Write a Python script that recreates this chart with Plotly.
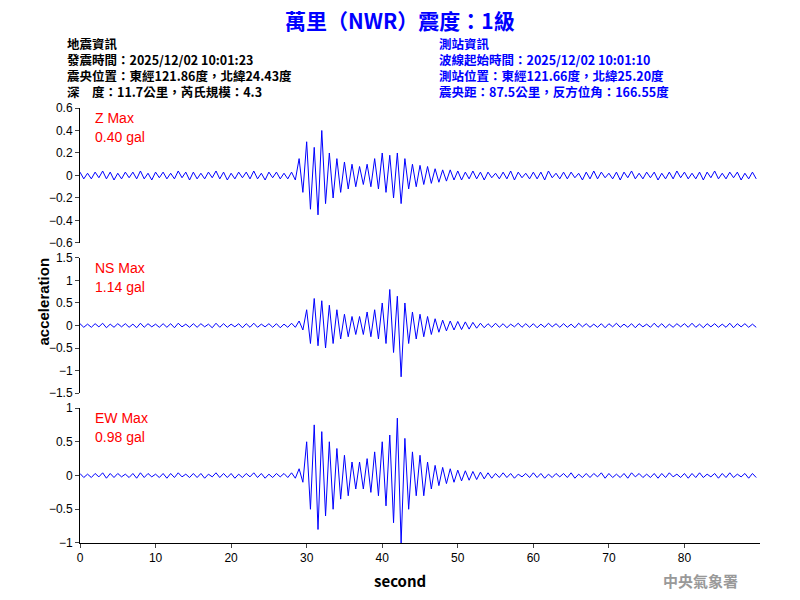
import plotly.graph_objects as go

# per-second peak (max) and trough (min) amplitudes, gal, 0..89 s
seconds = list(range(90))

z_max = [0.03, 0.02, 0.03, 0.04, 0.03, 0.02, 0.03, 0.03, 0.04, 0.02,
         0.03, 0.03, 0.02, 0.04, 0.03, 0.03, 0.02, 0.03, 0.04, 0.03,
         0.02, 0.03, 0.03, 0.04, 0.02, 0.03, 0.03, 0.02, 0.03, 0.15,
         0.30, 0.25, 0.40, 0.20, 0.15, 0.12, 0.10, 0.08, 0.10, 0.15,
         0.20, 0.18, 0.20, 0.15, 0.10, 0.09, 0.08, 0.06, 0.05, 0.05,
         0.04, 0.03, 0.04, 0.03, 0.03, 0.02, 0.03, 0.04, 0.03, 0.02,
         0.03, 0.03, 0.04, 0.02, 0.03, 0.03, 0.02, 0.03, 0.04, 0.03,
         0.02, 0.03, 0.03, 0.04, 0.02, 0.03, 0.03, 0.02, 0.03, 0.04,
         0.03, 0.02, 0.03, 0.03, 0.04, 0.02, 0.03, 0.03, 0.02, 0.03]
z_min = [-0.03, -0.03, -0.02, -0.03, -0.04, -0.03, -0.02, -0.03, -0.03, -0.04,
         -0.02, -0.03, -0.03, -0.02, -0.04, -0.03, -0.03, -0.02, -0.03, -0.04,
         -0.03, -0.02, -0.03, -0.03, -0.04, -0.02, -0.03, -0.03, -0.04, -0.15,
         -0.30, -0.35, -0.25, -0.20, -0.15, -0.12, -0.10, -0.08, -0.10, -0.12,
         -0.15, -0.20, -0.25, -0.12, -0.10, -0.08, -0.07, -0.06, -0.05, -0.04,
         -0.04, -0.03, -0.03, -0.04, -0.02, -0.03, -0.03, -0.04, -0.02, -0.03,
         -0.03, -0.04, -0.02, -0.03, -0.03, -0.02, -0.04, -0.03, -0.03, -0.02,
         -0.03, -0.04, -0.02, -0.03, -0.03, -0.02, -0.04, -0.03, -0.03, -0.02,
         -0.03, -0.03, -0.04, -0.02, -0.03, -0.03, -0.02, -0.04, -0.03, -0.03]

ns_max = [0.04, 0.03, 0.04, 0.05, 0.03, 0.04, 0.04, 0.03, 0.05, 0.04,
          0.03, 0.04, 0.04, 0.05, 0.03, 0.04, 0.04, 0.03, 0.05, 0.04,
          0.03, 0.04, 0.04, 0.05, 0.03, 0.04, 0.04, 0.03, 0.05, 0.10,
          0.35, 0.60, 0.55, 0.45, 0.35, 0.25, 0.20, 0.20, 0.30, 0.35,
          0.50, 0.80, 0.65, 0.50, 0.30, 0.25, 0.20, 0.15, 0.12, 0.10,
          0.09, 0.08, 0.07, 0.05, 0.04, 0.05, 0.04, 0.03, 0.05, 0.04,
          0.04, 0.03, 0.05, 0.04, 0.04, 0.03, 0.05, 0.04, 0.03, 0.04,
          0.04, 0.05, 0.03, 0.04, 0.04, 0.03, 0.05, 0.04, 0.03, 0.04,
          0.04, 0.05, 0.03, 0.04, 0.04, 0.03, 0.05, 0.04, 0.04, 0.03]
ns_min = [-0.04, -0.04, -0.03, -0.05, -0.04, -0.03, -0.04, -0.05, -0.04, -0.03,
          -0.04, -0.04, -0.05, -0.03, -0.04, -0.04, -0.03, -0.05, -0.04, -0.04,
          -0.03, -0.05, -0.04, -0.04, -0.03, -0.04, -0.05, -0.04, -0.04, -0.10,
          -0.40, -0.45, -0.50, -0.40, -0.30, -0.25, -0.20, -0.20, -0.25, -0.30,
          -0.40, -0.60, -1.14, -0.40, -0.30, -0.25, -0.20, -0.15, -0.12, -0.10,
          -0.09, -0.08, -0.06, -0.05, -0.04, -0.04, -0.05, -0.03, -0.04, -0.04,
          -0.05, -0.04, -0.03, -0.04, -0.04, -0.05, -0.03, -0.04, -0.04, -0.05,
          -0.03, -0.04, -0.04, -0.05, -0.03, -0.04, -0.04, -0.05, -0.04, -0.03,
          -0.04, -0.04, -0.05, -0.03, -0.04, -0.04, -0.05, -0.03, -0.04, -0.04]

ew_max = [0.03, 0.02, 0.03, 0.04, 0.03, 0.03, 0.02, 0.03, 0.04, 0.03,
          0.02, 0.03, 0.03, 0.04, 0.02, 0.03, 0.03, 0.02, 0.04, 0.03,
          0.03, 0.02, 0.03, 0.04, 0.03, 0.02, 0.03, 0.03, 0.04, 0.10,
          0.50, 0.75, 0.65, 0.50, 0.40, 0.30, 0.20, 0.20, 0.25, 0.35,
          0.50, 0.60, 0.85, 0.55, 0.35, 0.30, 0.20, 0.15, 0.12, 0.10,
          0.08, 0.07, 0.06, 0.05, 0.04, 0.03, 0.04, 0.03, 0.02, 0.03,
          0.04, 0.03, 0.02, 0.03, 0.03, 0.04, 0.02, 0.03, 0.03, 0.04,
          0.03, 0.02, 0.03, 0.04, 0.03, 0.02, 0.03, 0.03, 0.04, 0.02,
          0.03, 0.03, 0.04, 0.02, 0.03, 0.03, 0.04, 0.02, 0.03, 0.03]
ew_min = [-0.03, -0.03, -0.02, -0.04, -0.03, -0.02, -0.03, -0.04, -0.03, -0.02,
          -0.03, -0.04, -0.03, -0.02, -0.03, -0.03, -0.04, -0.02, -0.03, -0.03,
          -0.04, -0.03, -0.02, -0.03, -0.04, -0.03, -0.02, -0.03, -0.04, -0.10,
          -0.50, -0.80, -0.60, -0.50, -0.35, -0.30, -0.20, -0.20, -0.25, -0.30,
          -0.45, -0.70, -1.00, -0.50, -0.30, -0.30, -0.20, -0.15, -0.12, -0.10,
          -0.08, -0.07, -0.06, -0.05, -0.04, -0.03, -0.03, -0.04, -0.02, -0.03,
          -0.03, -0.04, -0.03, -0.02, -0.03, -0.04, -0.03, -0.03, -0.02, -0.04,
          -0.03, -0.03, -0.04, -0.02, -0.03, -0.03, -0.04, -0.03, -0.02, -0.03,
          -0.04, -0.03, -0.03, -0.02, -0.04, -0.03, -0.03, -0.02, -0.04, -0.03]

channels = [
    ("Z Max", "0.40 gal", z_max, z_min, [-0.6, 0.6], [-0.6, -0.4, -0.2, 0, 0.2, 0.4, 0.6]),
    ("NS Max", "1.14 gal", ns_max, ns_min, [-1.5, 1.5], [-1.5, -1, -0.5, 0, 0.5, 1, 1.5]),
    ("EW Max", "0.98 gal", ew_max, ew_min, [-1, 1], [-1, -0.5, 0, 0.5, 1]),
]
domains = [[0.6897, 1.0], [0.3448, 0.6552], [0.0, 0.3103]]

fig = go.Figure()
FONT = "Arial, Liberation Sans, sans-serif"
CJK = "Noto Sans CJK TC"


def px(x, y):
    # page pixel position -> paper coords of the plot area (x 80..760, y 108..543)
    return (x - 80) / 680, (543 - y) / 435


for i, (name, peak, hi, lo, rng, ticks) in enumerate(channels):
    xs, ys = [], []
    for t, a, b in zip(seconds, hi, lo):
        xs += [t, t + 0.5]
        ys += [a, b]
    ax = "" if i == 0 else str(i + 1)
    fig.add_trace(go.Scatter(x=xs, y=ys, mode="lines", line=dict(color="blue", width=1),
                             xaxis="x" + ax, yaxis="y" + ax, showlegend=False,
                             hoverinfo="skip"))
    fig.layout["yaxis" + ax] = dict(domain=domains[i], range=rng, tickvals=ticks,
                                    showline=True, linecolor="black", ticks="outside",
                                    ticklen=4, showgrid=False, zeroline=False,
                                    tickfont=dict(size=12, color="black", family=FONT))
    fig.layout["xaxis" + ax] = dict(range=[0, 90], anchor="y" + ax, showgrid=False,
                                    zeroline=False, visible=(i == 2),
                                    showline=True, linecolor="black", ticks="outside",
                                    ticklen=4, tickvals=list(range(0, 90, 10)),
                                    tickfont=dict(size=12, color="black", family=FONT))
    top = [108, 258, 408][i]
    for j, txt in enumerate([name, peak]):
        x, y = px(93, top + 10 + j * 19)
        fig.add_annotation(text=txt, x=x, y=y, xref="paper", yref="paper",
                           xanchor="left", yanchor="middle", showarrow=False,
                           font=dict(size=14, color="red", family=FONT))

texts = [
    ("<b>萬里（NWR）震度：1級</b>", 400, 20, "center", 21, "blue"),
    ("<b>地震資訊</b>", 65, 43, "left", 12.5, "black"),
    ("<b>發震時間：2025/12/02 10:01:23</b>", 65, 59, "left", 12.5, "black"),
    ("<b>震央位置：東經121.86度，北緯24.43度</b>", 65, 75, "left", 12.5, "black"),
    ("<b>深　度：11.7公里，芮氏規模：4.3</b>", 65, 91, "left", 12.5, "black"),
    ("<b>測站資訊</b>", 437, 43, "left", 12.5, "blue"),
    ("<b>波線起始時間：2025/12/02 10:01:10</b>", 437, 59, "left", 12.5, "blue"),
    ("<b>測站位置：東經121.66度，北緯25.20度</b>", 437, 75, "left", 12.5, "blue"),
    ("<b>震央距：87.5公里，反方位角：166.55度</b>", 437, 91, "left", 12.5, "blue"),
    ("<b>second</b>", 400, 580, "center", 15, "black"),
    ("<b>中央氣象署</b>", 700, 580, "center", 15, "#999999"),
]
for txt, x, y, anchor, size, color in texts:
    xp, yp = px(x, y)
    fig.add_annotation(text=txt, x=xp, y=yp, xref="paper", yref="paper",
                       xanchor=anchor, yanchor="middle", showarrow=False,
                       font=dict(size=size, color=color, family=CJK))

xp, yp = px(32, 302)
fig.add_annotation(text="<b>acceleration</b>", x=xp, y=yp, xref="paper", yref="paper",
                   textangle=-90, showarrow=False,
                   font=dict(size=15, color="black", family=FONT))

# the page body adds an 8px margin, so the figure is 784x584 placed at (8, 8)
fig.update_layout(width=784, height=584, margin=dict(l=72, r=32, t=100, b=49),
                  plot_bgcolor="white", paper_bgcolor="white")
fig.write_html("out.html")
